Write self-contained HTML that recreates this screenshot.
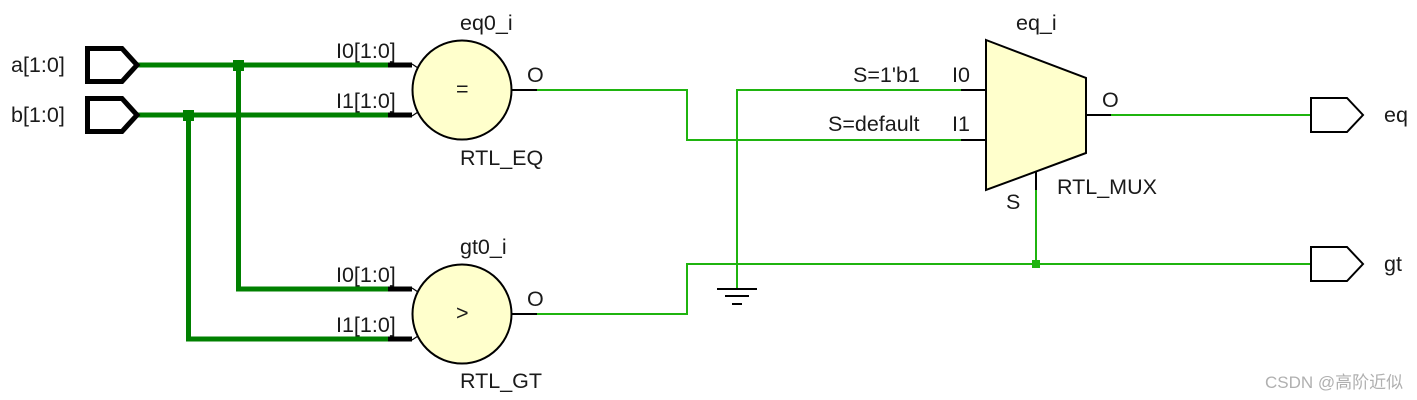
<!DOCTYPE html>
<html><head><meta charset="utf-8"><style>
html,body{margin:0;padding:0;background:#fff;width:1417px;height:400px;overflow:hidden}
svg{display:block}
text{font-family:"Liberation Sans","Noto Sans CJK SC",sans-serif;font-size:21.5px;fill:#1a1a1a}
</style></head><body>
<svg width="1417" height="400" viewBox="0 0 1417 400" xmlns="http://www.w3.org/2000/svg">
<g fill="none" stroke="#008000" stroke-width="5">
<path d="M137 65H388"/><path d="M137 115H388"/>
<path d="M238.5 65V289H388"/><path d="M188.5 115V339H388"/>
</g>
<rect x="233" y="60" width="11" height="11" fill="#008000"/>
<rect x="183" y="110" width="11" height="11" fill="#008000"/>
<g fill="none" stroke="#1fb40f" stroke-width="2">
<path d="M537 90H687V140H961"/>
<path d="M537 314H687V264H1311"/>
<path d="M737 289V90H961"/>
<path d="M1111 115H1311"/>
<path d="M1036 264V190"/>
</g>
<rect x="1032" y="260" width="8" height="8" fill="#1fb40f"/>
<g fill="none" stroke="#000">
<path d="M87.5 48.5H122L137 65L122 81.5H87.5Z" stroke-width="5"/>
<path d="M87.5 98.5H122L137 115L122 131.5H87.5Z" stroke-width="5"/>
<path d="M1311 98H1347L1363 115L1347 132H1311Z" stroke-width="2"/>
<path d="M1311 247H1347L1363 264L1347 281H1311Z" stroke-width="2"/>
<g stroke-width="5">
<path d="M388 65H412"/><path d="M388 115H412"/><path d="M388 289H412"/><path d="M388 339H412"/>
</g>
<g stroke-width="1.2">
<path d="M412 64L418 68"/><path d="M412 116L418 112"/><path d="M412 288L418 292"/><path d="M412 340L418 336"/>
</g>
<g stroke-width="2">
<path d="M512 90H537"/><path d="M512 314H537"/>
<path d="M961 90H986"/><path d="M961 140H986"/><path d="M1086 115H1111"/><path d="M1036 171V190"/>
<path d="M717 289H757"/><path d="M725 296H749"/><path d="M732 304H742"/>
</g>
</g>
<circle cx="462" cy="90" r="49.5" fill="#ffffcc" stroke="#000" stroke-width="2"/>
<circle cx="462" cy="314" r="49.5" fill="#ffffcc" stroke="#000" stroke-width="2"/>
<path d="M986 40L1086 78V153L986 190Z" fill="#ffffcc" stroke="#000" stroke-width="2"/>
<text x="11" y="72">a[1:0]</text>
<text x="11" y="122">b[1:0]</text>
<text x="460" y="30">eq0_i</text>
<text x="460" y="165">RTL_EQ</text>
<text x="336" y="58">I0[1:0]</text>
<text x="336" y="108">I1[1:0]</text>
<text x="527" y="82">O</text>
<text x="456" y="96">=</text>
<text x="460" y="254">gt0_i</text>
<text x="460" y="388">RTL_GT</text>
<text x="336" y="282">I0[1:0]</text>
<text x="336" y="332">I1[1:0]</text>
<text x="527" y="306">O</text>
<text x="456" y="320">&gt;</text>
<text x="1016" y="30">eq_i</text>
<text x="952" y="82">I0</text>
<text x="952" y="131">I1</text>
<text x="853" y="82">S=1'b1</text>
<text x="828" y="131">S=default</text>
<text x="1102" y="107">O</text>
<text x="1006" y="209">S</text>
<text x="1057" y="194">RTL_MUX</text>
<text x="1384" y="122">eq</text>
<text x="1384" y="271">gt</text>
<text x="1265" y="388" style="font-size:17px;fill:#b0b0b0">CSDN @高阶近似</text>
</svg>
</body></html>
